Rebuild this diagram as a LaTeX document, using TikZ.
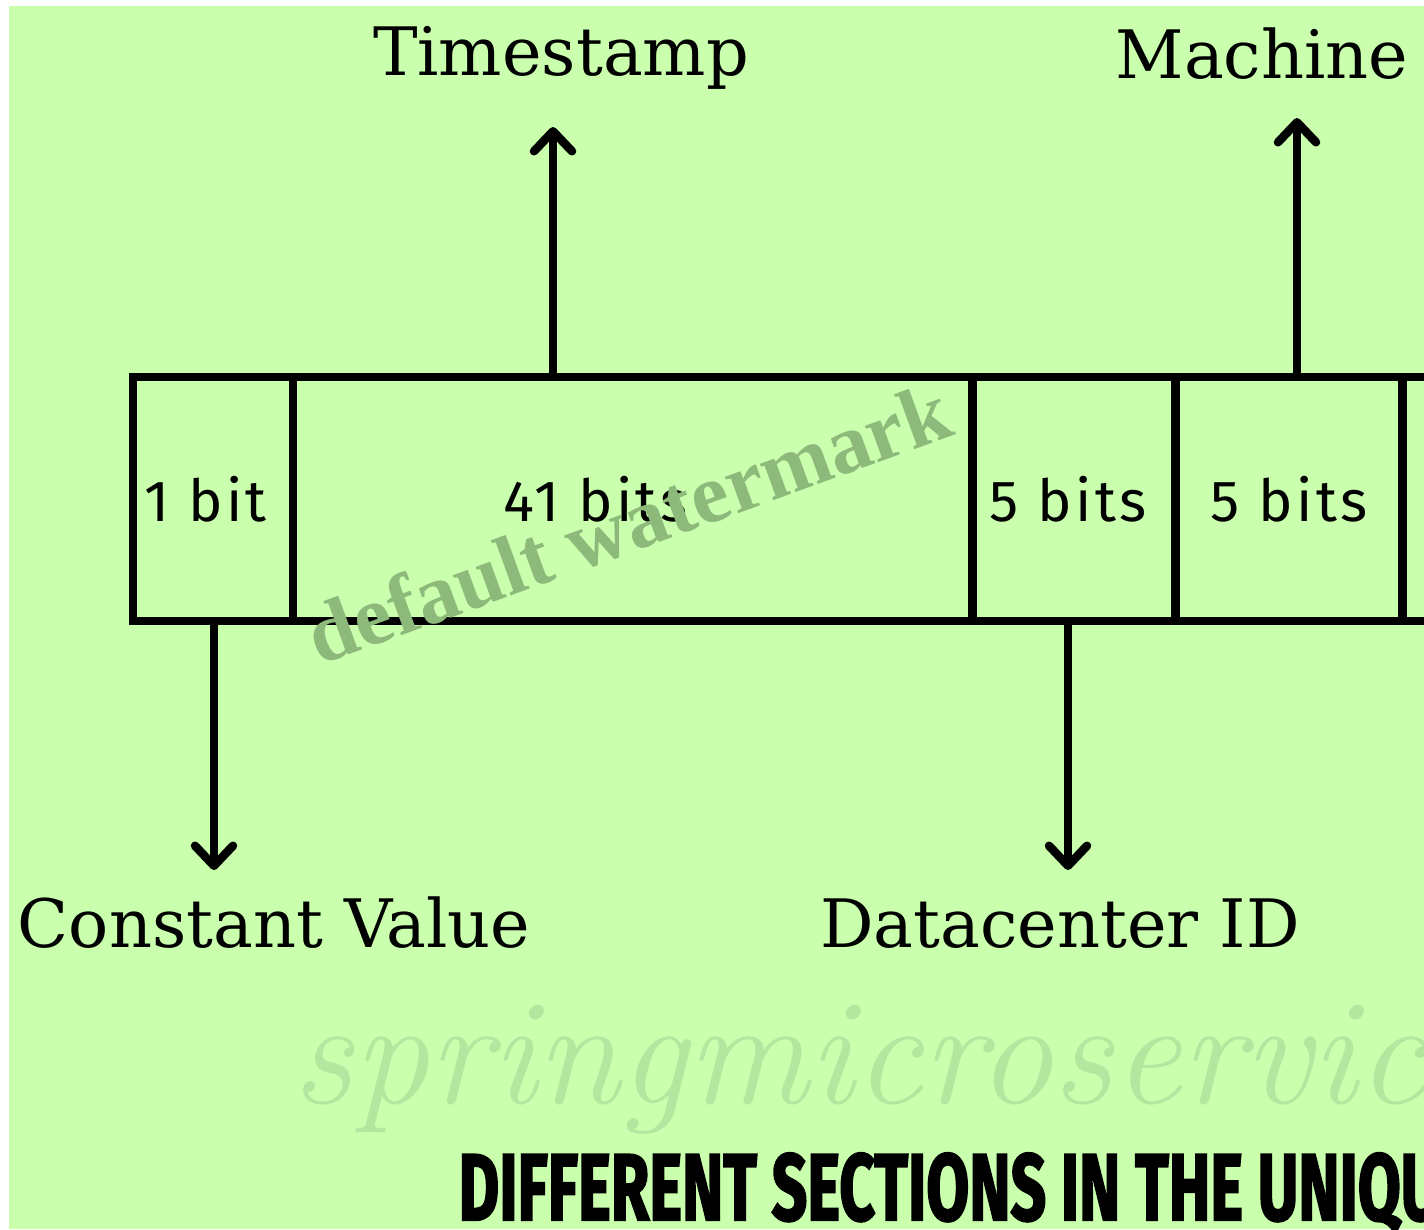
\documentclass[tikz,border=0pt]{standalone}
\usepackage{fontspec}
\usepackage{tikz}
\usetikzlibrary{positioning,arrows.meta}
\setsansfont{Fira Sans}[LetterSpace=6]
\newfontfamily\slabfont{DejaVu Serif}
\newfontfamily\markfont{Liberation Serif}
\newfontfamily\titlefont{Fira Sans}[BoldFeatures={FakeBold=2.5}]
\definecolor{bggreen}{HTML}{C9FFAD}
\definecolor{markgreen}{HTML}{8DB97B}
\definecolor{faintgreen}{HTML}{B4E6A0}

\begin{document}
\begin{tikzpicture}[
    x=0.01cm, y=-0.01cm,
    cell/.style={rectangle, draw, line width=0.085cm, minimum height=2.44cm, outer sep=0pt, inner sep=0pt, font=\bitfont},
    field/.style={inner sep=0pt, font=\slabfont\fontsize{19}{22}\selectfont},
    arrow/.style={line width=0.085cm, -{Straight Barb[round,length=2mm,width=3.8mm]}}
]
    \def\bitfont{\sffamily\fontsize{16.5}{20}\selectfont}
    \useasboundingbox (0,0) rectangle (1424,1229);
    \clip (0,0) rectangle (1424,1229);
    \fill[bggreen] (9,6) rectangle (1424,1229);

    % site watermark
    \node[anchor=base west, inner sep=0pt, text=faintgreen, font=\itshape\fontsize{43}{50}\selectfont] (site) at (292,1103) {springmicroservic};

    % the id fields
    \node[cell, minimum width=1.60cm, anchor=north west] (sign) at (133,377) {\hspace*{-0.15cm}1 bit};
    \node[cell, minimum width=6.79cm, right=0pt of sign] (time) {\hspace*{-0.75cm}41 bits};
    \node[cell, minimum width=2.03cm, right=0pt of time] (dc) {\hspace*{-0.12cm}5 bits};
    \node[cell, minimum width=2.27cm, right=0pt of dc] (mach) {5 bits};
    \node[cell, minimum width=2.60cm, right=0pt of mach] (seq) {};

    \node[field, anchor=base] (tslabel) at (561,75) {Timestamp};
    \node[field, anchor=base] (mlabel) at (1262,78) {Machine};
    \node[field, anchor=base] (cvlabel) at (274,947) {Constant Value};
    \node[field, anchor=base] (dclabel) at (1060,947) {Datacenter ID};

    \coordinate (tstip) at (553,127);
    \coordinate (mtip) at (1297,118);
    \coordinate (cvtip) at (214,870);
    \coordinate (dctip) at (1068,870);

    \draw[arrow] (time.north -| tstip) -- (tstip);
    \draw[arrow] (mach.north -| mtip) -- (mtip);
    \draw[arrow] (sign.south -| cvtip) -- (cvtip);
    \draw[arrow] (dc.south -| dctip) -- (dctip);

    \node[anchor=base west, inner sep=0pt] (title) at (458,1220) {\resizebox{9.82cm}{0.67cm}{\titlefont\bfseries DIFFERENT SECTIONS IN THE UNIQU}};

    % image watermark
    \node[rotate=20, anchor=base, inner sep=0pt, text=markgreen, font=\markfont\bfseries\fontsize{24}{26}\selectfont] (wmark) at (638,550) {default watermark};
\end{tikzpicture}
\end{document}
